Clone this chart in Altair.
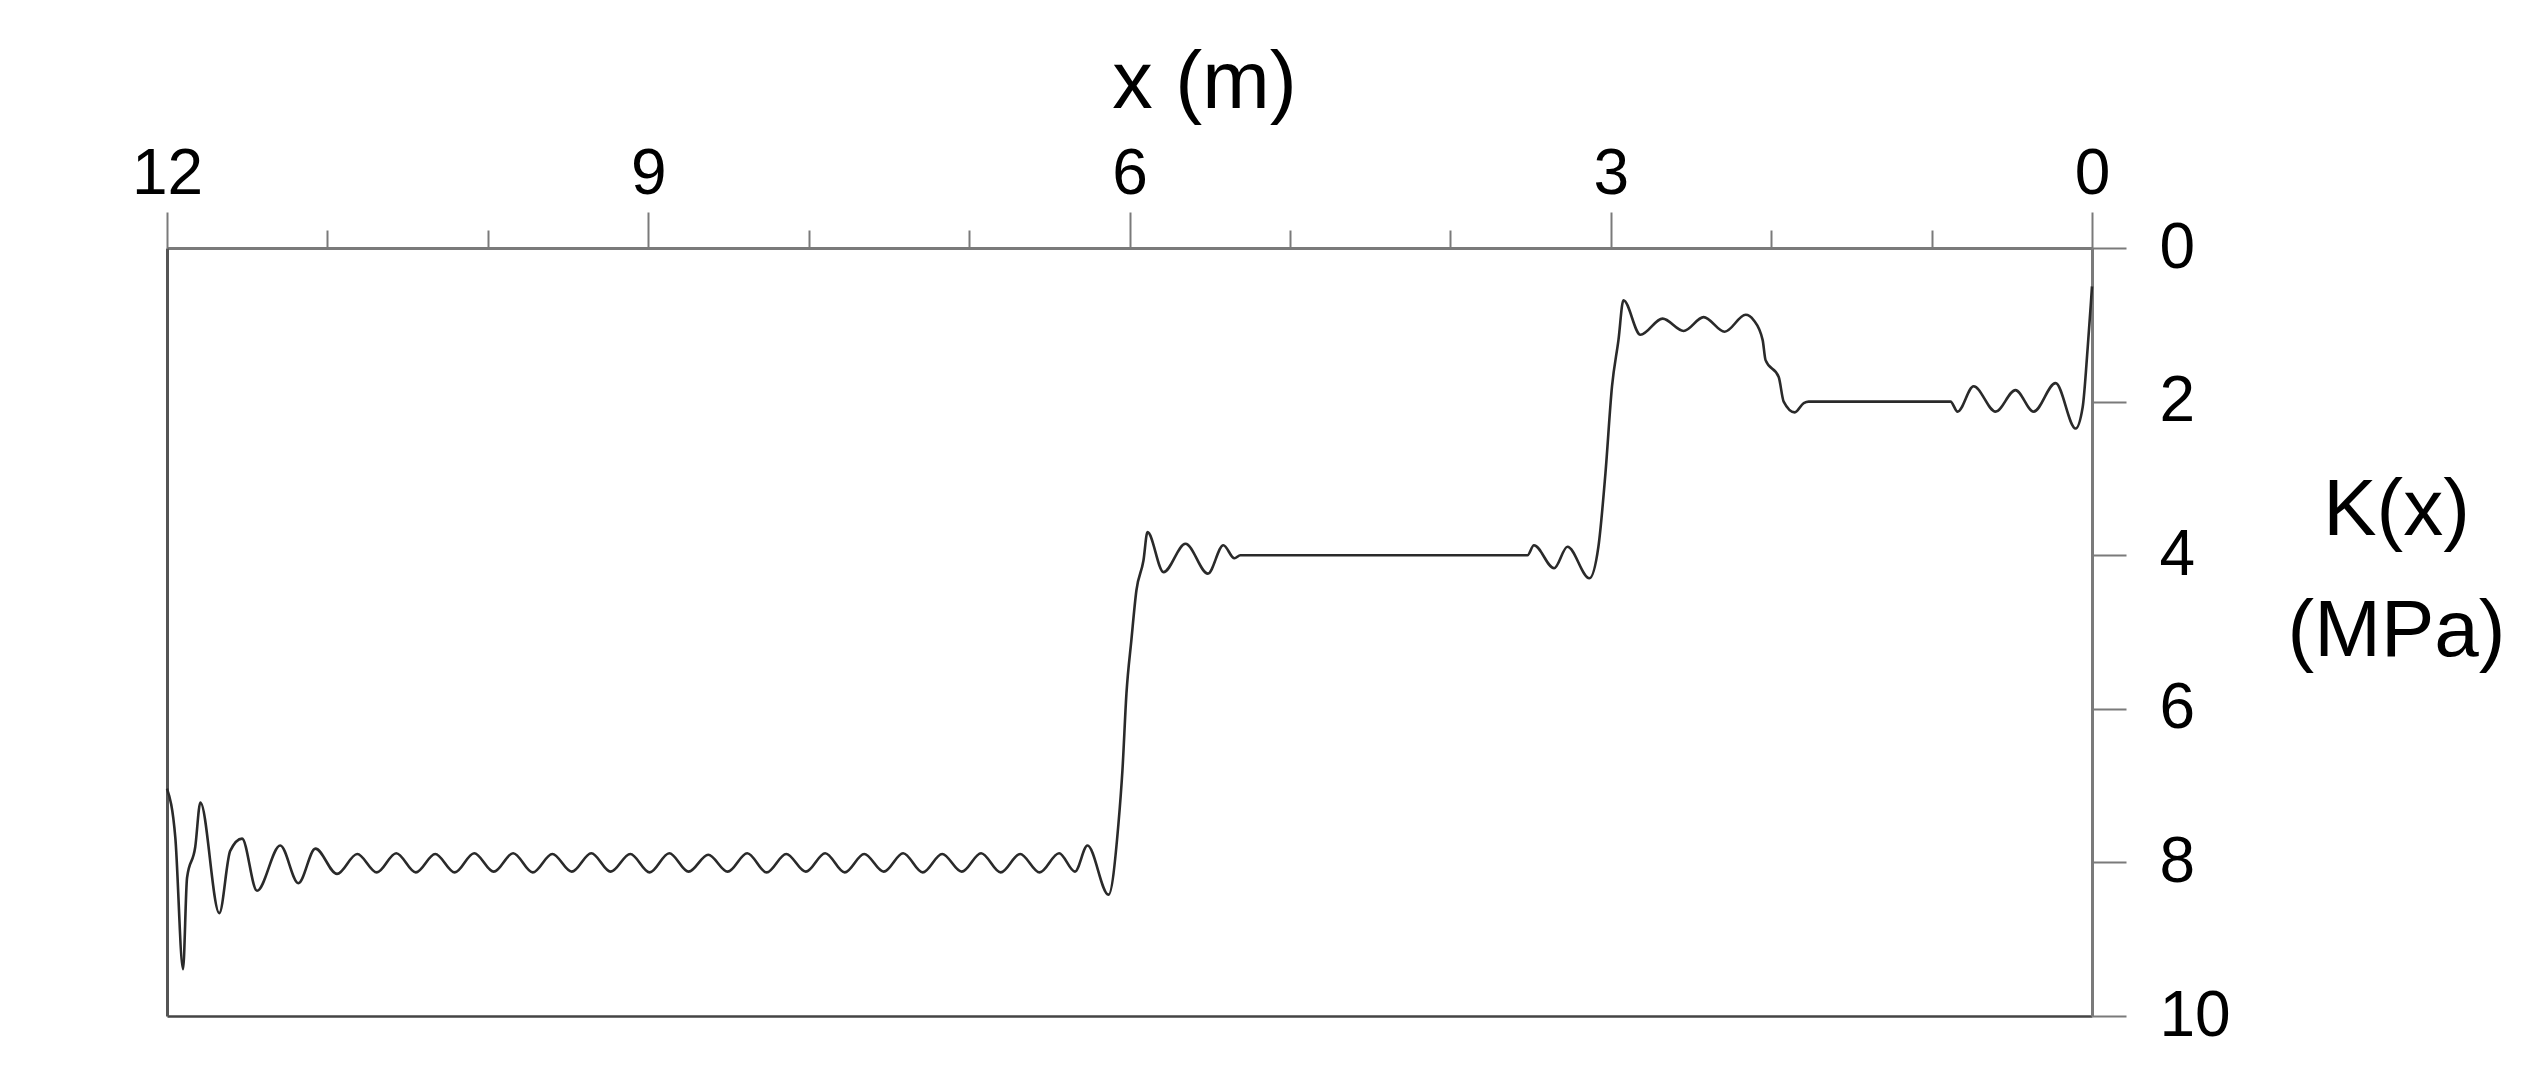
import altair as alt
import pandas as pd

# position along x (m) and K(x) (MPa)
x_m = [
    12.000, 11.948, 11.900, 11.875, 11.824, 11.792, 11.674, 11.606, 11.532, 11.439,
    11.294, 11.181, 11.075, 10.940,
    10.814, 10.692, 10.571, 10.449, 10.328, 10.206, 10.085, 9.963, 9.842, 9.720,
    9.598, 9.477, 9.355, 9.234, 9.112, 8.991, 8.869, 8.748, 8.626, 8.505,
    8.383, 8.262, 8.140, 8.018, 7.897, 7.775, 7.654, 7.532, 7.411, 7.289,
    7.168, 7.046, 6.925, 6.803, 6.682, 6.560, 6.439, 6.340, 6.262, 6.131,
    6.069, 6.044, 6.019, 5.988, 5.957, 5.913, 5.888, 5.788, 5.651, 5.511,
    5.415, 5.346, 5.309, 3.519, 3.479, 3.353, 3.270, 3.133, 3.077, 3.033,
    2.992, 2.952, 2.921, 2.815, 2.677, 2.546, 2.421, 2.290, 2.159, 2.109,
    2.053, 2.035, 1.953, 1.922, 1.853, 1.797, 1.766, 0.882, 0.838, 0.738,
    0.601, 0.477, 0.364, 0.227, 0.102, 0.058, 0.027, 0.008, 0.000,
]
k_mpa = [
    7.04, 7.68, 9.39, 8.20, 7.80, 7.22, 8.66, 7.85, 7.69, 8.37,
    7.78, 8.27, 7.82, 8.15,
    7.89, 8.13, 7.88, 8.13, 7.89, 8.13, 7.88, 8.12, 7.88, 8.13,
    7.89, 8.12, 7.88, 8.12, 7.89, 8.13, 7.88, 8.12, 7.90, 8.12,
    7.88, 8.13, 7.89, 8.12, 7.88, 8.13, 7.89, 8.12, 7.88, 8.13,
    7.89, 8.12, 7.88, 8.13, 7.89, 8.13, 7.88, 8.12, 7.78, 8.42,
    7.50, 6.80, 5.80, 5.10, 4.46, 4.07, 3.70, 4.22, 3.85, 4.24,
    3.87, 4.04, 4.00, 4.00, 3.87, 4.17, 3.89, 4.30, 3.89, 2.93,
    1.80, 1.20, 0.68, 1.13, 0.92, 1.08, 0.90, 1.09, 0.87, 0.94,
    1.20, 1.46, 1.68, 2.00, 2.14, 2.02, 2.00, 2.00, 2.13, 1.80,
    2.13, 1.85, 2.13, 1.76, 2.35, 2.07, 1.30, 0.75, 0.50,
]

x_major = [0, 3, 6, 9, 12]
x_minor = [1, 2, 4, 5, 7, 8, 10, 11]
y_ticks = [0, 2, 4, 6, 8, 10]

df = pd.DataFrame({"x": x_m, "k": k_mpa})

FONT = "Liberation Sans"
AX_GRAY = "#7a7a7a"

xs = alt.Scale(domain=[0, 12], reverse=True, nice=False, zero=False)
ys = alt.Scale(domain=[0, 10], reverse=True, nice=False, zero=False)

main = alt.Chart(df).mark_line(
    color="#2a2a2a", strokeWidth=2.6, interpolate="monotone"
).encode(
    x=alt.X("x:Q", scale=xs, axis=alt.Axis(
        orient="top", values=x_major, format="d",
        tickSize=36, tickWidth=2, tickColor=AX_GRAY,
        domainColor=AX_GRAY, domainWidth=3,
        labelFont=FONT, labelFontSize=64, labelColor="black",
        labelPadding=19, labelBaseline="alphabetic", labelFlush=False,
        labelAngle=0, grid=False,
        title="x (m)", titleFont=FONT, titleFontSize=81, titleFontWeight="normal",
        titleColor="black", titleX=1037, titleY=-141, titleAlign="center",
        titleBaseline="alphabetic",
    )),
    y=alt.Y("k:Q", scale=ys, axis=alt.Axis(
        orient="right", values=y_ticks, format="d",
        tickSize=34, tickWidth=2, tickColor=AX_GRAY,
        domainColor=AX_GRAY, domainWidth=3,
        labelFont=FONT, labelFontSize=64, labelColor="black",
        labelPadding=33, labelAlign="left", labelBaseline="middle",
        labelFlush=False, grid=False,
        title=["K(x)", "(MPa)"], titleFont=FONT, titleFontSize=80,
        titleFontWeight="normal", titleColor="black", titleAngle=0,
        titleX=304, titleY=286, titleAlign="center", titleBaseline="alphabetic",
        titleLineHeight=121,
    )),
    order=alt.Order("x:Q", sort="descending"),
)

minor = alt.Chart(df).mark_line(strokeOpacity=0).encode(
    x=alt.X("x:Q", scale=xs, axis=alt.Axis(
        orient="top", values=x_minor, tickSize=18, tickWidth=2, tickColor=AX_GRAY,
        domain=False, labels=False, title=None, grid=False,
    )),
    y=alt.Y("k:Q", scale=ys, axis=alt.Axis(
        orient="left", domainColor="#555555", domainWidth=3,
        ticks=False, labels=False, title=None, grid=False,
    )),
)

frame = alt.Chart(df).mark_line(strokeOpacity=0).encode(
    x=alt.X("x:Q", scale=xs, axis=alt.Axis(
        orient="bottom", domainColor="#444444", domainWidth=2.5,
        ticks=False, labels=False, title=None, grid=False,
    )),
    y=alt.Y("k:Q", scale=ys, axis=None),
)

chart = alt.layer(frame, minor, main).resolve_axis(
    x="independent", y="independent"
).properties(
    width=1925, height=768,
    padding={"left": 159, "top": 240, "right": 432, "bottom": 40},
    autosize=alt.AutoSizeParams(type="none"),
    background="white",
).configure_view(stroke=None)

chart.save("out.html", embed_options={"renderer": "svg", "actions": False})
